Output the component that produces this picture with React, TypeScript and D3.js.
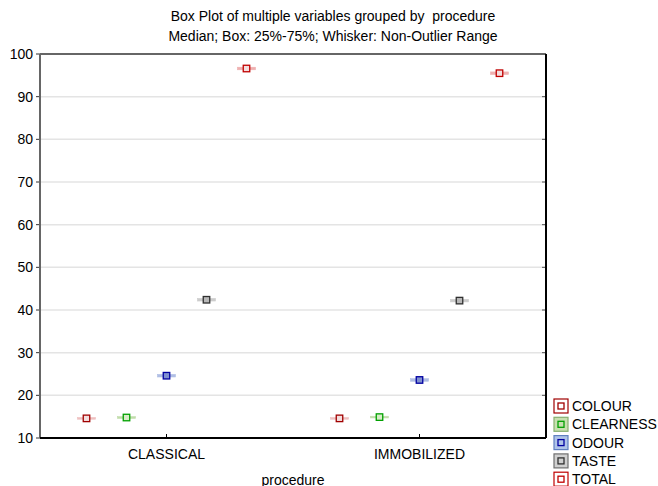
import React from "react";
import * as d3 from "d3";

const groups = ["CLASSICAL", "IMMOBILIZED"];
const variables = ["COLOUR", "CLEARNESS", "ODOUR", "TASTE", "TOTAL"];
// per group, per variable
const medians = [
  [14.6, 14.8, 24.6, 42.4, 96.6],
  [14.6, 14.9, 23.6, 42.2, 95.5],
];
const q1s = [
  [14.4, 14.6, 24.3, 42.1, 96.3],
  [14.4, 14.7, 23.3, 41.9, 95.2],
];
const q3s = [
  [14.8, 15.0, 24.9, 42.7, 96.9],
  [14.8, 15.1, 23.9, 42.5, 95.8],
];
const yTicks = [10, 20, 30, 40, 50, 60, 70, 80, 90, 100];

const strokeColors = ["#a00000", "#00a000", "#0000a0", "#303030", "#c00000"];
const boxFills = ["#eec0c0", "#c0dcaa", "#b0bee4", "#cccccc", "#eeb0b0"];
const markerFills = ["#f4dede", "#d8ecc8", "#8090d0", "#b8b8b8", "#f4dede"];
const legendFills = ["#ffffff", "#c8e0b0", "#b0c4e8", "#d0d0d0", "#ffffff"];
const legendBorders = ["#a00000", "#88b070", "#6080c0", "#707070", "#c00000"];

export default function App() {
  const W = 658, H = 486;
  const left = 40, right = 546, top = 54, bottom = 438;
  const y = d3.scaleLinear().domain([10, 100]).range([bottom, top]);
  const xg = d3.scaleBand().domain(groups).range([left, right]).padding(0);
  const xv = d3.scalePoint().domain(variables).range([-80, 80]);
  const font = "'Liberation Sans', Arial, sans-serif";
  const boxW = 18, mk = 6.5;

  return (
    <svg width={W} height={H} style={{ position: "absolute", left: 0, top: 0, background: "#fff" }} fontFamily={font}>
      <rect width={W} height={H} fill="#fff" />
      <text x={333} y={21} textAnchor="middle" fontSize={14} style={{ whiteSpace: "pre" }}>Box Plot of multiple variables grouped by  procedure</text>
      <text x={333} y={41} textAnchor="middle" fontSize={14}>Median; Box: 25%-75%; Whisker: Non-Outlier Range</text>

      {yTicks.map((t) => (
        <g key={t}>
          {t !== 10 && t !== 100 && (
            <line x1={left} x2={right} y1={y(t)} y2={y(t)} stroke="#e4e4e4" strokeWidth={1.5} />
          )}
          <line x1={left - 4} x2={left} y1={y(t)} y2={y(t)} stroke="#333" />
          <line x1={right - 4} x2={right} y1={y(t)} y2={y(t)} stroke="#555" />
          <text x={33} y={y(t) + 5} textAnchor="end" fontSize={14}>{t}</text>
        </g>
      ))}

      {/* frame */}
      <line x1={left} x2={right} y1={top} y2={top} stroke="#666" strokeWidth={2} />
      <line x1={left} x2={left} y1={top} y2={bottom} stroke="#666" strokeWidth={2} />
      <line x1={right} x2={right} y1={top} y2={bottom} stroke="#000" strokeWidth={2} />
      <line x1={left} x2={right} y1={bottom} y2={bottom} stroke="#000" strokeWidth={2} />

      {groups.map((g, gi) => {
        const cx = (xg(g) as number) + xg.bandwidth() / 2;
        return (
          <g key={g}>
            <line x1={cx} x2={cx} y1={bottom} y2={bottom - 4} stroke="#000" />
            <text x={cx} y={459} textAnchor="middle" fontSize={14}>{g}</text>
            {variables.map((v, vi) => {
              const x = cx + (xv(v) as number);
              const m = medians[gi][vi];
              const yq3 = y(q3s[gi][vi]);
              const yq1 = y(q1s[gi][vi]);
              return (
                <g key={v}>
                  <rect x={x - boxW / 2} y={yq3} width={boxW} height={Math.max(yq1 - yq3, 1.5)}
                    fill={boxFills[vi]} stroke={boxFills[vi]} strokeWidth={0.6} />
                  <rect x={x - mk / 2} y={y(m) - mk / 2} width={mk} height={mk}
                    fill={markerFills[vi]} stroke={strokeColors[vi]} strokeWidth={1.3} />
                </g>
              );
            })}
          </g>
        );
      })}

      <text x={293} y={485} textAnchor="middle" fontSize={14}>procedure</text>

      {variables.map((v, i) => {
        const ly = 406 + i * 18.3;
        return (
          <g key={v}>
            <rect x={554} y={ly - 7} width={14} height={14} fill={legendFills[i]} stroke={legendBorders[i]} strokeWidth={1.2} />
            <rect x={558} y={ly - 3} width={6} height={6} fill="none" stroke={strokeColors[i]} strokeWidth={1.3} />
            <text x={572} y={ly + 5} fontSize={14}>{v}</text>
          </g>
        );
      })}
    </svg>
  );
}
